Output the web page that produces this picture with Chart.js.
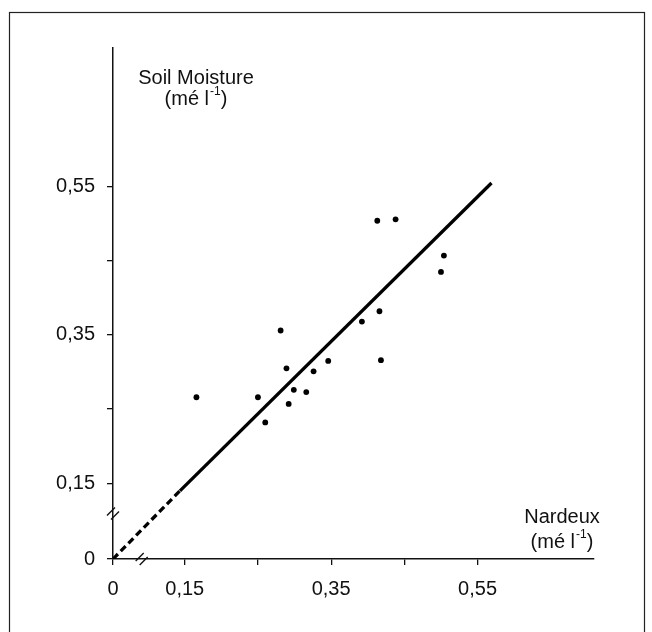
<!DOCTYPE html>
<html lang="en">
<head>
    <meta charset="UTF-8">
    <title>Soil Moisture vs Nardeux</title>
    <script src="https://cdn.jsdelivr.net/npm/chart.js@4"></script>
    <style>
        body {
            margin: 0;
            background: #fff;
        }
        #wrap {
            position: relative;
            width: 652px;
            height: 632px;
        }
    </style>
</head>
<body>
<div id="wrap">
    <canvas id="soilChart" width="652" height="632"></canvas>
</div>
<script>
    // measured points (mé l-1)
    const nardeux      = [0.166, 0.250, 0.260, 0.292, 0.299, 0.316, 0.289, 0.281, 0.326, 0.346, 0.392, 0.416, 0.418, 0.413, 0.438, 0.500, 0.504];
    const soilMoisture = [0.266, 0.266, 0.232, 0.257, 0.276, 0.273, 0.305, 0.356, 0.301, 0.315, 0.368, 0.382, 0.316, 0.504, 0.506, 0.435, 0.457];

    // regression line, first segment dashed (across the axis break)
    const fitX = [0, 0.14, 0.569];
    const fitY = [0, 0.135, 0.555];

    const xTickValues = [0, 0.15, 0.25, 0.35, 0.45, 0.55];
    const xTickLabels = ['0', '0,15', '', '0,35', '', '0,55'];
    const yTickValues = [0, 0.15, 0.25, 0.35, 0.45, 0.55];
    const yTickLabels = ['0', '0,15', '', '0,35', '', '0,55'];

    // axis break: below 0.15 the axis is squeezed
    const breaks = {
        x: { at: 0.15, squeeze: 0.653 },
        y: { at: 0.15, squeeze: 0.681 }
    };

    class BrokenScale extends Chart.LinearScale {
        squash(v) {
            const b = breaks[this.id];
            return v < b.at ? b.at - (b.at - v) * b.squeeze : v;
        }
        unsquash(u) {
            const b = breaks[this.id];
            return u < b.at ? b.at - (b.at - u) / b.squeeze : u;
        }
        configure() {
            super.configure();
            this._startValue = this.squash(this.min);
            this._endValue = this.squash(this.max);
            this._valueRange = this._endValue - this._startValue;
        }
        getPixelForValue(v) {
            return super.getPixelForValue(this.squash(v));
        }
        getValueForPixel(p) {
            return this.unsquash(super.getValueForPixel(p));
        }
    }
    BrokenScale.id = 'broken';
    BrokenScale.defaults = Chart.LinearScale.defaults;
    Chart.register(BrokenScale);

    const FONT = '"Liberation Sans", Arial, sans-serif';
    const INK = '#111';

    function drawUnit(ctx, cx, y) {
        const big = '20px ' + FONT, small = '12px ' + FONT;
        ctx.font = big;
        const w1 = ctx.measureText('(mé l').width;
        const w3 = ctx.measureText(')').width;
        ctx.font = small;
        const w2 = ctx.measureText('-1').width + 1;
        let x = cx - (w1 + w2 + w3) / 2;
        ctx.textAlign = 'left';
        ctx.font = big;
        ctx.fillText('(mé l', x, y);
        x += w1;
        ctx.font = small;
        ctx.fillText('-1', x + 1, y - 7);
        x += w2;
        ctx.font = big;
        ctx.fillText(')', x, y);
    }

    function breakMark(ctx, cx, cy) {
        ctx.beginPath();
        ctx.moveTo(cx - 6, cy + 2); ctx.lineTo(cx + 2, cy - 6);
        ctx.moveTo(cx - 2, cy + 6); ctx.lineTo(cx + 6, cy - 2);
        ctx.stroke();
    }

    const decorations = {
        id: 'decorations',
        beforeDraw(chart) {
            const ctx = chart.ctx;
            ctx.save();
            ctx.strokeStyle = '#222';
            ctx.lineWidth = 1.2;
            ctx.strokeRect(9.5, 12.5, 635, 640);
            ctx.restore();
        },
        afterDraw(chart) {
            const ctx = chart.ctx;
            const xs = chart.scales.x, ys = chart.scales.y;
            ctx.save();
            ctx.fillStyle = INK;
            ctx.textBaseline = 'middle';
            ctx.textAlign = 'center';
            ctx.font = '20px ' + FONT;
            ctx.fillText('Soil Moisture', 196, 78);
            drawUnit(ctx, 196, 99);
            ctx.textAlign = 'center';
            ctx.font = '20px ' + FONT;
            ctx.fillText('Nardeux', 562, 517);
            drawUnit(ctx, 562, 542);

            ctx.strokeStyle = INK;
            ctx.lineWidth = 1.4;
            breakMark(ctx, xs.left, ys.getPixelForValue(0.09));
            breakMark(ctx, xs.getPixelForValue(0.06), ys.bottom);
            ctx.restore();
        }
    };

    const axisStyle = {
        grid: { drawOnChartArea: false, drawTicks: true, tickLength: 6, color: INK, lineWidth: 1.3 },
        border: { display: true, color: INK, width: 1.5 }
    };

    new Chart(document.getElementById('soilChart'), {
        type: 'scatter',
        data: {
            datasets: [{
                data: nardeux.map((x, i) => ({ x: x, y: soilMoisture[i] })),
                backgroundColor: '#000',
                borderColor: '#000',
                pointRadius: 2.9,
                borderWidth: 0,
                order: 1
            }, {
                type: 'line',
                data: fitX.map((x, i) => ({ x: x, y: fitY[i] })),
                borderColor: '#000',
                borderWidth: 3.3,
                pointRadius: 0,
                fill: false,
                segment: {
                    borderDash: ctx => ctx.p0DataIndex === 0 ? [7, 4] : undefined
                },
                order: 2
            }]
        },
        options: {
            responsive: false,
            animation: false,
            layout: { padding: { left: 0, top: 48, right: 58, bottom: 0 } },
            plugins: { legend: { display: false }, tooltip: { enabled: false } },
            scales: {
                x: {
                    type: 'broken',
                    min: 0,
                    max: 0.709,
                    ...axisStyle,
                    afterBuildTicks: s => { s.ticks = xTickValues.map(v => ({ value: v })); },
                    afterFit: s => { s.height = 73; },
                    ticks: {
                        autoSkip: false,
                        maxRotation: 0,
                        padding: 12,
                        color: INK,
                        font: { family: FONT, size: 20 },
                        callback: (v, i) => xTickLabels[i]
                    }
                },
                y: {
                    type: 'broken',
                    min: 0,
                    max: 0.737,
                    ...axisStyle,
                    afterBuildTicks: s => { s.ticks = yTickValues.map(v => ({ value: v })); },
                    afterFit: s => { s.width = 113; },
                    ticks: {
                        autoSkip: false,
                        padding: 12,
                        color: INK,
                        font: { family: FONT, size: 20 },
                        callback: (v, i) => yTickLabels[i]
                    }
                }
            }
        },
        plugins: [decorations]
    });
</script>
</body>
</html>
